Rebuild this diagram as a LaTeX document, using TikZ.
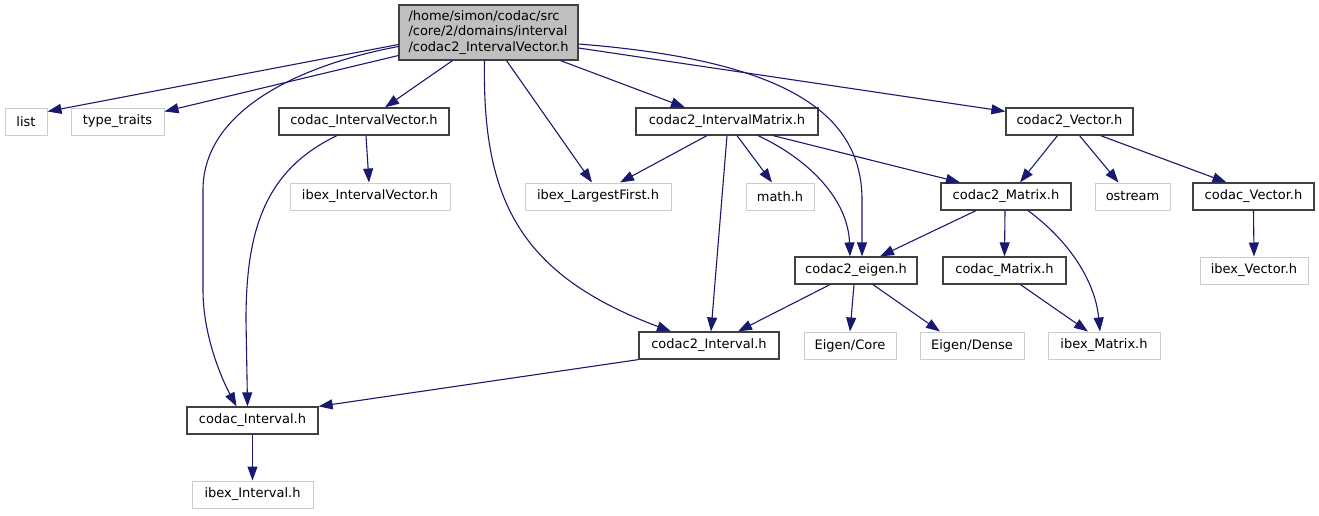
\documentclass[tikz,border=0pt]{standalone}
\usepackage{fontspec}
\setmainfont{DejaVu Sans}
\usetikzlibrary{arrows.meta}
\definecolor{incblue}{RGB}{25,25,112}
\definecolor{sysgray}{RGB}{191,191,191}
\definecolor{sysline}{RGB}{204,204,204}
\definecolor{boxline}{RGB}{64,64,64}

\begin{document}
\begin{tikzpicture}[x=1pt,y=-1pt,
    hdr/.style={draw=boxline,line width=1.2pt,inner sep=0pt,minimum height=27pt,
      font=\fontsize{13}{15.5}\selectfont},
    sys/.style={hdr,draw=sysline,line width=1pt},
    cur/.style={hdr,fill=sysgray,align=left},
    inc/.style={draw=incblue,line width=1.1pt,
      -{Triangle[length=14pt,width=10pt,color=incblue]}}]
  \useasboundingbox (0,0) rectangle (1319,515);
  % the file itself
  \node[cur,minimum width=179pt,minimum height=55pt] (root) at (488.5,32.5)
    {/home/simon/codac/src\\/core/2/domains/interval\\/codac2\_IntervalVector.h};
  % first level
  \node[sys,minimum width=42pt] (list) at (26,121.5) {list};
  \node[sys,minimum width=93pt] (traits) at (117.5,121.5) {type\_traits};
  \node[hdr,minimum width=170pt] (cIV) at (364,121.5) {codac\_IntervalVector.h};
  \node[hdr,minimum width=182pt] (c2IM) at (727,121.5) {codac2\_IntervalMatrix.h};
  \node[hdr,minimum width=127pt] (c2V) at (1069.5,121.5) {codac2\_Vector.h};
  % second level
  \node[sys,minimum width=160pt] (iIV) at (370,196.5) {ibex\_IntervalVector.h};
  \node[sys,minimum width=146pt] (iLF) at (598,196.5) {ibex\_LargestFirst.h};
  \node[sys,minimum width=68pt] (math) at (780,196.5) {math.h};
  \node[hdr,minimum width=130pt] (c2M) at (1006,196.5) {codac2\_Matrix.h};
  \node[sys,minimum width=75pt] (ostr) at (1132.5,196.5) {ostream};
  \node[hdr,minimum width=121pt] (cV) at (1253.5,196.5) {codac\_Vector.h};
  % third level
  \node[hdr,minimum width=122pt] (c2E) at (856,270.5) {codac2\_eigen.h};
  \node[hdr,minimum width=123pt] (cM) at (1004.5,270.5) {codac\_Matrix.h};
  \node[sys,minimum width=108pt] (iV) at (1254,270.5) {ibex\_Vector.h};
  % fourth level
  \node[hdr,minimum width=140pt] (c2I) at (709,345.5) {codac2\_Interval.h};
  \node[sys,minimum width=92pt] (core) at (850,345.5) {Eigen/Core};
  \node[sys,minimum width=104pt] (dense) at (972,345.5) {Eigen/Dense};
  \node[sys,minimum width=112pt] (iM) at (1104,345.5) {ibex\_Matrix.h};
  % bottom
  \node[hdr,minimum width=131pt] (cI) at (252.5,420.5) {codac\_Interval.h};
  \node[sys,minimum width=121pt] (iI) at (252.5,494.5) {ibex\_Interval.h};

  % includes of the file itself
  \draw[inc] ([yshift=-12pt]root.west) -- ([yshift=-4pt]list.north east);
  \draw[inc] ([yshift=-23pt]root.west) -- ([yshift=-4pt]traits.north east);
  \draw[inc] ([yshift=-14pt]root.west) .. controls (300,65) and (203,110) .. (203,190)
    -- (203,290) .. controls (203,340) and (225,385) .. ([xshift=-16pt]cI.north);
  \draw[inc] ([xshift=-36pt]root.south) -- ([xshift=21pt]cIV.north);
  \draw[inc] ([xshift=-4pt]root.south) .. controls (482,200) and (520,275) .. ([xshift=-38pt]c2I.north);
  \draw[inc] ([xshift=18pt]root.south) -- ([xshift=-6pt]iLF.north);
  \draw[inc] ([xshift=72pt]root.south) -- ([xshift=-42pt]c2IM.north);
  \draw[inc] ([yshift=-11.5pt]root.east) .. controls (780,60) and (862,110) .. (862,200)
    -- ([xshift=6pt]c2E.north);
  \draw[inc] ([yshift=-15.5pt]root.east) -- ([yshift=-4pt]c2V.north west);
  % codac_IntervalVector.h
  \draw[inc] ([xshift=2pt]cIV.south) -- ([xshift=-1pt]iIV.north);
  \draw[inc] ([xshift=-27pt]cIV.south) .. controls (265,170) and (246,230) .. (246,320)
    -- ([xshift=-5pt]cI.north);
  % codac2_IntervalMatrix.h
  \draw[inc] ([xshift=-20pt]c2IM.south) -- ([xshift=22pt]iLF.north);
  \draw[inc] (c2IM.south) -- ([xshift=2pt]c2I.north);
  \draw[inc] ([xshift=10pt]c2IM.south) -- ([xshift=-8pt]math.north);
  \draw[inc] ([xshift=31pt]c2IM.south) .. controls (810,160) and (848,200) .. ([xshift=-6pt]c2E.north);
  \draw[inc] ([xshift=46pt]c2IM.south) -- ([xshift=-46pt]c2M.north);
  % codac2_Vector.h
  \draw[inc] ([xshift=-12pt]c2V.south) -- ([xshift=14pt]c2M.north);
  \draw[inc] ([xshift=10pt]c2V.south) -- ([xshift=-14pt]ostr.north);
  \draw[inc] ([xshift=31pt]c2V.south) -- ([xshift=-27pt]cV.north);
  % codac2_Matrix.h
  \draw[inc] ([xshift=-30pt]c2M.south) -- ([xshift=24pt]c2E.north);
  \draw[inc] ([xshift=-1pt]c2M.south) -- (cM.north);
  \draw[inc] ([xshift=22pt]c2M.south) .. controls (1068,240) and (1095,280) .. ([xshift=-4pt]iM.north);
  \draw[inc] (cV.south) -- (iV.north);
  \draw[inc] ([xshift=16pt]cM.south) -- ([xshift=-16pt]iM.north);
  % codac2_eigen.h
  \draw[inc] ([xshift=-26pt]c2E.south) -- ([xshift=29pt]c2I.north);
  \draw[inc] ([xshift=-2pt]c2E.south) -- (core.north);
  \draw[inc] ([xshift=17pt]c2E.south) -- ([xshift=-32pt]dense.north);
  % intervals
  \draw[inc] (c2I.south west) -- (cI.north east);
  \draw[inc] (cI.south) -- (iI.north);
\end{tikzpicture}
\end{document}
